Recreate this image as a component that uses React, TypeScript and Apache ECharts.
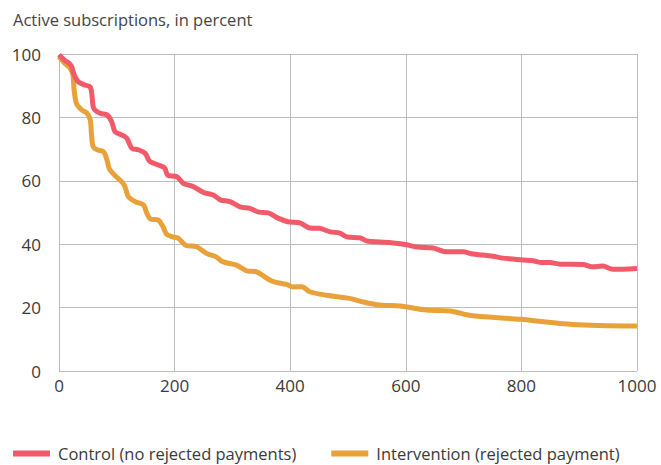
import React, { useEffect, useRef } from "react";
import * as echarts from "echarts";

const controlX = [0, 10, 18, 22, 26, 33, 45, 54, 57, 60, 71, 83, 91, 97, 108, 117, 126, 137, 149, 157, 172, 183, 188, 204, 215, 232, 250, 267, 279, 296, 313, 330, 346, 362, 378, 396, 417, 434, 451, 469, 486, 498, 521, 533, 555, 578, 602, 619, 647, 671, 699, 716, 734, 751, 768, 786, 803, 820, 835, 849, 867, 907, 922, 941, 958, 976, 1000];
const controlY = [99.8, 98, 97, 96, 93.5, 91.3, 90.2, 89.6, 87, 82.9, 81.3, 80.8, 78.7, 75.5, 74.5, 73.5, 70.3, 69.8, 68.7, 66.1, 65, 64, 61.8, 61.3, 59.2, 58.2, 56.3, 55.5, 54, 53.4, 51.8, 51.3, 50.1, 49.9, 48.3, 47.1, 46.7, 45.1, 45, 43.9, 43.5, 42.3, 42, 41, 40.7, 40.4, 39.8, 39.1, 38.8, 37.6, 37.6, 36.9, 36.6, 36.2, 35.6, 35.3, 35, 34.8, 34.2, 34.2, 33.7, 33.6, 32.9, 33.1, 32.1, 32.1, 32.3];

const interventionX = [0, 10, 19, 24, 26, 30, 39, 48, 54, 56, 59, 66, 77, 83, 87, 96, 108, 114, 120, 132, 146, 152, 158, 172, 180, 186, 195, 206, 219, 238, 255, 272, 283, 307, 325, 342, 360, 371, 394, 405, 420, 434, 463, 503, 526, 555, 590, 636, 676, 716, 798, 889, 1000];
const interventionY = [99.2, 97.1, 95.6, 93.5, 89, 84.5, 82.4, 81.4, 79.3, 75, 70.8, 69.8, 69.2, 66.6, 63.8, 61.8, 59.8, 58.2, 55, 53.4, 52.4, 49.8, 48, 47.6, 45.5, 43.2, 42.4, 41.9, 39.7, 39.2, 37.1, 36, 34.5, 33.4, 31.6, 31.3, 29.2, 28.2, 27.3, 26.5, 26.6, 25, 23.9, 22.9, 21.8, 20.8, 20.5, 19.2, 18.9, 17.4, 16.3, 14.7, 14.2];

const seriesNames = ["Control (no rejected payments)", "Intervention (rejected payment)"];
const colors = ["#f25a69", "#e8a239"];
const titleText = "Active subscriptions, in percent";

const FONT = "'Open Sans', 'Noto Sans', sans-serif";

export default function App() {
  const ref = useRef<HTMLDivElement>(null);
  useEffect(() => {
    if (!ref.current) return;
    const chart = echarts.init(ref.current, undefined, { renderer: "svg" });
    const pairs = (xs: number[], ys: number[]) => xs.map((x, i) => [x, ys[i]]);
    chart.setOption({
      animation: false,
      backgroundColor: "#ffffff",
      title: {
        text: titleText,
        left: 8,
        top: 6,
        textStyle: { fontFamily: FONT, fontSize: 16.5, fontWeight: "normal", color: "#444" },
      },
      grid: { left: 59, right: 24, top: 54, bottom: 94, containLabel: false },
      xAxis: {
        type: "value",
        min: 0,
        max: 1000,
        interval: 200,
        axisLine: { show: false },
        axisTick: { show: false },
        splitLine: { show: true, lineStyle: { color: "#bdbdbd", width: 1 } },
        axisLabel: {
          fontFamily: FONT,
          fontSize: 17,
          color: "#3a3a3a",
          margin: 6,
          formatter: (v: number) => String(v),
        },
      },
      yAxis: {
        type: "value",
        min: 0,
        max: 100,
        interval: 20,
        axisLine: { show: false },
        axisTick: { show: false },
        splitLine: { show: true, lineStyle: { color: "#bdbdbd", width: 1 } },
        axisLabel: { fontFamily: FONT, fontSize: 17, color: "#3a3a3a", margin: 18 },
      },
      legend: {
        top: 440,
        left: 8,
        itemWidth: 37,
        itemHeight: 6,
        itemGap: 35,
        icon: "rect",
        textStyle: { fontFamily: FONT, fontSize: 16.5, color: "#3a3a3a", padding: [0, 0, 0, 3] },
        data: seriesNames,
      },
      series: [
        {
          name: seriesNames[0],
          type: "line",
          data: pairs(controlX, controlY),
          showSymbol: false,
          smooth: 0.3,
          lineStyle: { color: colors[0], width: 5 },
          itemStyle: { color: colors[0] },
          z: 3,
        },
        {
          name: seriesNames[1],
          type: "line",
          data: pairs(interventionX, interventionY),
          showSymbol: false,
          smooth: 0.3,
          lineStyle: { color: colors[1], width: 5 },
          itemStyle: { color: colors[1] },
          z: 2,
        },
      ],
    });
    return () => chart.dispose();
  }, []);
  return (
    <div
      ref={ref}
      style={{ position: "absolute", left: 0, top: 0, width: 661, height: 465 }}
    />
  );
}
